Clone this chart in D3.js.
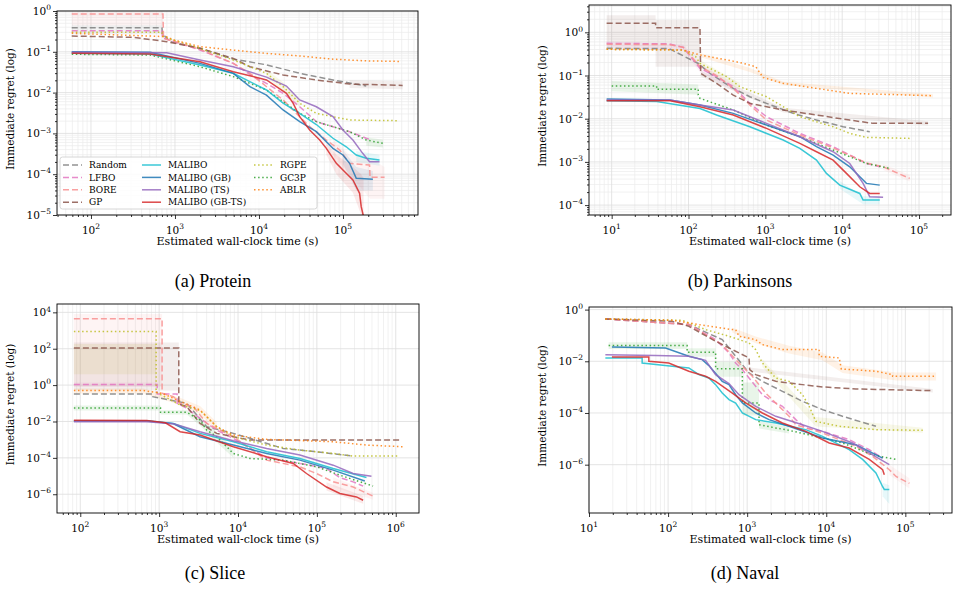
<!DOCTYPE html>
<html>
<head>
<meta charset="utf-8">
<script src="https://cdn.jsdelivr.net/npm/d3@7"></script>
<style>
  body { margin: 0; background: #fff; }
</style>
</head>
<body>
<svg id="fig" width="953" height="592"></svg>
<script>
// methods, in legend order
const methods = ["Random", "LFBO", "BORE", "GP", "MALIBO", "MALIBO (GB)", "MALIBO (TS)", "MALIBO (GB-TS)", "RGPE", "GC3P", "ABLR"];
const methodColors = ["#7f7f7f", "#e377c2", "#f88f8f", "#8c564b", "#17becf", "#1f77b4", "#9467bd", "#d62728", "#bcbd22", "#2ca02c", "#ff7f0e"];
const methodDash = ["6,3", "6,3", "6,3", "6,3", null, null, null, null, "1.5,2.6", "1.5,2.6", "1.5,2.6"];
const drawOrder = [0, 1, 2, 3, 8, 9, 10, 4, 5, 6, 7];

// ---- (a) Protein  [time (s), regret]
const proteinRandom = [[59,0.39],[700,0.39],[710,0.28],[875,0.177],[1986,0.122],[4943,0.066],[12280,0.048],[30550,0.0297],[76030,0.0204],[189200,0.0145]];
const proteinLFBO = [[59,0.33],[700,0.33],[710,0.22],[1986,0.111],[4943,0.052],[8530,0.0246],[12280,0.0169],[19360,0.0096],[30550,0.0045],[48190,0.00194],[76030,0.00146],[119900,0.0011],[189200,0.00076],[217000,0.00069]];
const proteinBORE = [[59,0.844],[720,0.844],[730,0.214],[1986,0.115],[4943,0.052],[7800,0.0297],[19360,0.0066],[30550,0.00257],[40180,0.00146],[63400,0.00069],[91440,0.00039],[119900,0.000185],[207200,0.000168],[210000,0.0000838],[312600,0.0000838]];
const proteinGP = [[59,0.244],[321,0.226],[798,0.177],[1986,0.122],[4943,0.069],[7800,0.043],[19360,0.027],[48190,0.0204],[119900,0.0162],[513000,0.015]];
const proteinMALIBO = [[59,0.092],[506,0.088],[1986,0.0475],[4943,0.0297],[12280,0.0116],[19360,0.0055],[30550,0.0031],[48190,0.00165],[76030,0.00076],[109400,0.00047],[143900,0.000296],[189200,0.000245],[272300,0.000223]];
const proteinMALIBOGB = [[59,0.1],[506,0.097],[1986,0.052],[4943,0.0297],[7800,0.014],[12280,0.0087],[19360,0.00375],[30550,0.00194],[48190,0.0011],[76030,0.00043],[99900,0.000296],[119900,0.000185],[143900,0.0000792],[227000,0.0000748]];
const proteinMALIBOTS = [[59,0.097],[798,0.095],[1986,0.063],[4943,0.043],[12280,0.024],[21230,0.0145],[30550,0.0066],[48190,0.0045],[76030,0.00257],[99900,0.00121],[131300,0.00069],[172600,0.00032],[207200,0.000203],[272300,0.000203]];
const proteinMALIBOGBTS = [[59,0.092],[506,0.088],[1986,0.057],[4943,0.0326],[12280,0.0204],[21230,0.0096],[25460,0.0055],[30550,0.00257],[40180,0.00121],[52850,0.00069],[63400,0.00043],[83370,0.000185],[99900,0.000127],[131300,0.000072],[157700,0.000034],[164900,0.000016],[175800,0.0000091]];
const proteinRGPE = [[59,0.30],[700,0.30],[710,0.24],[957,0.195],[1986,0.122],[4943,0.063],[12280,0.0297],[19360,0.014],[30550,0.0055],[48190,0.0031],[76030,0.00257],[119900,0.00213],[448000,0.00205]];
const proteinGC3P = [[59,0.087],[506,0.0835],[1986,0.043],[4943,0.0246],[12280,0.0116],[30550,0.0031],[48190,0.00194],[76030,0.00146],[119900,0.0011],[189200,0.00069],[298500,0.00057]];
const proteinABLR = [[59,0.284],[798,0.235],[957,0.195],[1986,0.134],[4943,0.11],[12280,0.0915],[30550,0.079],[76030,0.066],[189200,0.06],[490000,0.058]];
// bands [time, low, high]
const proteinBandBORE = [[59,0.45,0.95],[720,0.45,0.95]];
const proteinBandRandom = [[59,0.27,0.46],[700,0.27,0.46]];
const proteinBandRGPE = [[12280,0.024,0.037],[19360,0.011,0.018],[30550,0.0045,0.0068]];
const proteinBandBORElate = [[76030,0.0003,0.0007],[119900,0.0001,0.0003],[210000,0.000025,0.00025],[312600,0.000025,0.00015]];
const proteinBandGBTS = [[63400,0.0003,0.0006],[83370,0.0001,0.0003],[131300,0.000035,0.00015],[164900,0.00001,0.0001],[175800,0.000005,0.00008]];
const proteinBandGB = [[99900,0.00018,0.0004],[143900,0.00004,0.00015],[227000,0.00004,0.00012]];
const proteinBandMALIBO = [[143900,0.0002,0.00037],[272300,0.00016,0.0003]];
const proteinBandGP = [[119900,0.013,0.02],[513000,0.012,0.019]];
const proteinBandGC3P = [[189200,0.0005,0.0008],[298500,0.00045,0.0007]];
const proteinXTicks = [2, 3, 4, 5];
const proteinYTicks = [0, -1, -2, -3, -4, -5];

// ---- (b) Parkinsons
const parkinsonsRandom = [[8.6,0.426],[55.6,0.42],[134,0.19],[190,0.112],[382,0.0504],[628,0.0323],[1035,0.0227],[2300,0.0133],[4630,0.0093],[10280,0.00653],[22840,0.005]];
const parkinsonsLFBO = [[8.6,0.556],[55.6,0.54],[85.4,0.45],[141,0.147],[232,0.094],[382,0.0551],[628,0.0227],[1035,0.0111],[2810,0.00457],[7620,0.00225],[20670,0.00092],[30820,0.00077]];
const parkinsonsBORE = [[8.6,0.53],[55.6,0.52],[85.4,0.45],[141,0.16],[232,0.1],[382,0.0504],[628,0.0207],[1035,0.0093],[2810,0.0042],[7620,0.0021],[20670,0.00095],[34060,0.00077],[75670,0.000415]];
const parkinsonsGP = [[8.6,1.617],[37.3,1.617],[37.3,1.28],[141,1.28],[144,0.112],[232,0.0659],[382,0.0353],[628,0.0227],[1705,0.0159],[4630,0.0122],[12550,0.0093],[25230,0.0078],[131000,0.0078]];
const parkinsonsMALIBO = [[8.6,0.0261],[38.5,0.025],[141,0.0173],[232,0.0122],[628,0.00653],[1705,0.00321],[2810,0.00206],[4630,0.0011],[6240,0.000542],[9300,0.00029],[16930,0.000186],[18710,0.000131],[30820,0.000131]];
const parkinsonsMALIBOGB = [[8.6,0.0286],[57.3,0.0271],[141,0.0207],[382,0.0133],[1035,0.00713],[2810,0.00383],[4630,0.00225],[7620,0.00144],[12550,0.00077],[20670,0.000318],[30820,0.00029]];
const parkinsonsMALIBOTS = [[8.6,0.0271],[57.3,0.027],[141,0.0207],[382,0.0159],[1035,0.0078],[2810,0.00383],[7620,0.00172],[12550,0.00092],[18710,0.000318],[22840,0.000156],[34060,0.000151]];
const parkinsonsMALIBOGBTS = [[8.6,0.0261],[57.3,0.026],[141,0.019],[382,0.0122],[1035,0.00597],[2810,0.00268],[4630,0.00172],[7620,0.0011],[11360,0.000542],[16930,0.000266],[22840,0.000186],[30820,0.000186]];
const parkinsonsRGPE = [[8.6,0.404],[85.4,0.39],[124,0.273],[141,0.191],[313,0.094],[466,0.0551],[1035,0.0323],[1705,0.019],[2810,0.0111],[7620,0.00653],[12550,0.00457],[20670,0.0037],[75670,0.0035]];
const parkinsonsGC3P = [[10,0.0571],[38.5,0.0571],[38.5,0.0478],[134,0.0478],[134,0.0353],[141,0.0296],[382,0.0159],[1035,0.00713],[2810,0.00383],[7620,0.00188],[20670,0.00092],[41610,0.000707]];
const parkinsonsABLR = [[8.6,0.404],[85.4,0.39],[141,0.298],[313,0.229],[466,0.2],[750,0.16],[935,0.09],[1705,0.0659],[4630,0.0504],[12550,0.0386],[152000,0.0341]];
const parkinsonsBandGP = [[8.6,0.39,2.5],[37.3,0.39,2.5],[37.3,0.16,1.93],[141,0.16,1.93]];
const parkinsonsBandGPlate = [[144,0.095,0.13],[1705,0.014,0.018],[131000,0.007,0.0087]];
const parkinsonsBandGC3P = [[10,0.043,0.075],[134,0.036,0.062]];
const parkinsonsBandLFBO = [[8.6,0.45,0.62],[85.4,0.38,0.52],[141,0.12,0.19],[382,0.045,0.065]];
const parkinsonsBandRGPE = [[141,0.16,0.23],[466,0.046,0.066]];
const parkinsonsBandABLR = [[141,0.27,0.33],[628,0.12,0.15],[1705,0.06,0.072],[152000,0.031,0.037]];
const parkinsonsBandMALIBO = [[9300,0.00024,0.00036],[18710,0.000105,0.00016],[30820,0.000105,0.00016]];
const parkinsonsBandBORE = [[34060,0.00065,0.0009],[75670,0.00035,0.0005]];
const parkinsonsXTicks = [1, 2, 3, 4, 5];
const parkinsonsYTicks = [0, -1, -2, -3, -4];

// ---- (c) Slice
const sliceRandom = [[83,0.327],[815,0.327],[815,0.233],[2240,0.1],[4010,0.00516],[8730,0.00222],[37500,0.00033],[99000,0.000216],[288300,0.000125]];
const sliceLFBO = [[83,1.07],[944,1.07],[944,0.327],[1690,0.327],[1690,0.1],[2240,0.053],[3300,0.0149],[5370,0.00338],[8730,0.00117],[23080,0.0001],[60900,0.00005],[132500,0.000026],[195500,0.0000083],[288300,0.0000048],[385800,0.0000028]];
const sliceBORE = [[83,4480],[1090,4480],[1090,0.356],[1518,0.233],[1845,0.1],[2720,0.0655],[4010,0.00788],[8730,0.00145],[23080,0.000075],[60900,0.000032],[99000,0.0000138],[161000,0.0000048],[288300,0.0000025],[516000,0.00000078]];
const sliceGP = [[83,108],[1775,108],[1775,0.092],[2240,0.0655],[3300,0.00788],[5370,0.00222],[8730,0.00145],[14190,0.00095],[1124000,0.00095]];
const sliceMALIBO = [[83,0.0111],[698,0.0111],[1518,0.00788],[3300,0.00222],[8730,0.00077],[23080,0.000216],[60900,0.0000927],[161000,0.000026],[425600,0.0000083]];
const sliceMALIBOGB = [[83,0.0105],[698,0.0105],[1518,0.0075],[3300,0.00145],[8730,0.000504],[23080,0.000175],[60900,0.000075],[161000,0.0000211],[405000,0.0000054]];
const sliceMALIBOTS = [[83,0.0098],[698,0.0098],[1518,0.0075],[3300,0.00274],[8730,0.00087],[23080,0.00033],[60900,0.000142],[161000,0.0000397],[288300,0.0000138],[492000,0.0000098]];
const sliceMALIBOGBTS = [[83,0.0118],[698,0.0115],[1200,0.0085],[1845,0.00274],[3300,0.00179],[8730,0.000408],[23080,0.000115],[50200,0.0000491],[73900,0.0000138],[132500,0.0000025],[195500,0.0000011],[317700,0.00000071],[385800,0.00000047]];
const sliceRGPE = [[83,896],[916,896],[916,0.405],[1845,0.081],[2720,0.053],[3300,0.04],[4010,0.0184],[5370,0.00516],[8730,0.00145],[23080,0.000504],[60900,0.000267],[161000,0.000175],[288300,0.000125],[1124000,0.000125]];
const sliceGC3P = [[83,0.0553],[1040,0.0553],[1040,0.0319],[2240,0.0319],[3300,0.012],[4010,0.00338],[5370,0.00145],[8730,0.000175],[14190,0.0000927],[37500,0.000075],[99000,0.0000321],[195500,0.0000112],[516000,0.0000028]];
const sliceABLR = [[83,0.5],[634,0.5],[1090,0.356],[1845,0.13],[3300,0.043],[5370,0.00516],[8730,0.00179],[23080,0.00104],[161000,0.00077],[425600,0.000504],[1239000,0.000408]];
const sliceBandBORE = [[83,0.8,8000],[1090,0.8,8000]];
const sliceBandRGPE = [[83,4,180],[916,4,180]];
const sliceBandGP = [[83,0.5,220],[1775,0.5,220]];
const sliceBandLFBO = [[83,0.8,1.4],[944,0.8,1.4]];
const sliceBandABLR = [[83,0.35,0.65],[634,0.35,0.65],[1845,0.08,0.2],[3300,0.025,0.07],[5370,0.003,0.009]];
const sliceBandGC3P = [[83,0.04,0.075],[1040,0.04,0.075],[1040,0.024,0.042],[2240,0.024,0.042],[3300,0.006,0.02],[5370,0.0007,0.0025],[8730,0.0001,0.0003]];
const sliceBandGBTS = [[132500,0.0000016,0.0000045],[385800,0.0000003,0.0000008]];
const sliceBandBORElate = [[161000,0.0000025,0.0000085],[516000,0.0000005,0.0000012]];
const sliceXTicks = [2, 3, 4, 5, 6];
const sliceYTicks = [4, 2, 0, -2, -4, -6];

// ---- (d) Naval
const navalRandom = [[16.1,0.435],[183,0.263],[484,0.069],[715,0.0156],[1055,0.00353],[1556,0.00168],[2790,0.00069],[5000,0.000283],[8970,0.000135],[16070,0.0000743],[42480,0.0000305]];
const navalLFBO = [[16.1,0.435],[183,0.263],[399,0.069],[589,0.021],[715,0.0086],[869,0.00476],[1055,0.00226],[1556,0.00051],[2083,0.000283],[2790,0.000181],[4120,0.0000552],[5510,0.0000263],[8970,0.0000195],[19500,0.0000093],[34970,0.0000038],[51620,0.0000018]];
const navalBORE = [[16.1,0.435],[183,0.263],[484,0.0442],[715,0.0116],[1162,0.00263],[1715,0.00059],[2531,0.000181],[3390,0.0000743],[4120,0.0000353],[8970,0.0000168],[23700,0.0000051],[38540,0.0000021],[62700,0.00000064],[76200,0.00000035],[112500,0.00000019]];
const navalGP = [[16.1,0.435],[113,0.353],[183,0.226],[399,0.0595],[649,0.0283],[1055,0.0135],[1076,0.00476],[1281,0.00305],[2296,0.00168],[5000,0.00125],[8970,0.00102],[23700,0.00085],[222000,0.00073]];
const navalMALIBO = [[16.1,0.0135],[47,0.0135],[47,0.0086],[113,0.0064],[183,0.0055],[245,0.00305],[328,0.00226],[399,0.00125],[484,0.00059],[589,0.00033],[715,0.000244],[869,0.0001],[1281,0.0000552],[2296,0.000041],[5510,0.0000226],[8970,0.0000125],[19500,0.0000038],[28800,0.0000016],[42480,0.00000048],[51620,0.00000014],[54200,0.00000011],[62700,0.00000011]];
const navalMALIBOGB = [[19.5,0.0359],[92.8,0.0328],[183,0.0156],[270,0.0116],[328,0.0068],[484,0.00168],[589,0.00125],[715,0.00051],[869,0.000244],[1281,0.0001],[1890,0.0000552],[3390,0.0000305],[8970,0.0000108],[23700,0.0000059],[51620,0.0000018]];
const navalMALIBOTS = [[16.1,0.0181],[69.3,0.0166],[183,0.0156],[298,0.0109],[399,0.00305],[589,0.00137],[788,0.00051],[1281,0.000181],[2296,0.0000743],[5000,0.0000353],[8970,0.0000195],[21500,0.0000069],[38540,0.0000024],[62700,0.000001]];
const navalMALIBOGBTS = [[19.5,0.0147],[57.1,0.0147],[57.1,0.01],[102,0.0086],[183,0.0041],[298,0.00263],[399,0.00168],[649,0.00059],[957,0.000244],[1556,0.0001],[2790,0.000041],[5510,0.0000195],[10890,0.0000069],[19500,0.0000044],[34970,0.0000016],[51620,0.00000064],[54200,0.00000041]];
const navalRGPE = [[16.1,0.435],[151,0.387],[298,0.168],[589,0.0929],[1055,0.0513],[1281,0.0283],[1556,0.0086],[2296,0.00226],[3390,0.00168],[5000,0.00051],[6080,0.000181],[7380,0.0000475],[14580,0.0000305],[42480,0.0000226],[166000,0.0000213]];
const navalGC3P = [[17.7,0.0404],[174,0.0404],[174,0.0223],[399,0.0223],[399,0.0052],[869,0.0052],[869,0.000244],[1412,0.000244],[1412,0.0000353],[2296,0.0000263],[3390,0.0000213],[8970,0.0000108],[16070,0.0000069],[38540,0.0000024],[76200,0.0000016]];
const navalABLR = [[16.1,0.435],[113,0.387],[245,0.263],[649,0.168],[715,0.168],[788,0.0929],[1281,0.069],[1556,0.0442],[2790,0.0283],[8130,0.0283],[8130,0.0156],[14580,0.0135],[15500,0.00505],[42480,0.0041],[69100,0.00305],[69100,0.00263],[244700,0.00263]];
const navalBandABLR = [[649,0.13,0.2],[1281,0.05,0.09],[3390,0.02,0.04],[8970,0.011,0.022],[16070,0.0035,0.007],[76200,0.0018,0.0037],[244700,0.0018,0.0037]];
const navalBandGC3P = [[17.7,0.03,0.055],[174,0.03,0.055],[174,0.015,0.032],[399,0.015,0.032],[399,0.0025,0.0095],[869,0.0025,0.0095],[869,0.00008,0.0015],[1412,0.00008,0.0015],[1412,0.000025,0.00005],[3390,0.000016,0.000028]];
const navalBandMALIBO = [[51620,0.00000006,0.0000002],[62700,0.00000003,0.00000016]];
const navalBandBORE = [[62700,0.0000004,0.000001],[112500,0.00000012,0.0000003]];
const navalBandGP = [[1076,0.004,0.0057],[222000,0.00062,0.00085]];
const navalBandRGPE = [[1556,0.006,0.012],[7380,0.00003,0.00007],[166000,0.000017,0.000027]];
const navalXTicks = [1, 2, 3, 4, 5];
const navalYTicks = [0, -2, -4, -6];

// panel layout
const panels = [
  { caption: "(a) Protein", box: [57, 11, 418, 215], xDomain: [39.4, 782000], yDomain: [1e-5, 1],
    xTicks: proteinXTicks, yTicks: proteinYTicks, yMinor: true, capX: 213, capY: 287, legend: true,
    series: [proteinRandom, proteinLFBO, proteinBORE, proteinGP, proteinMALIBO, proteinMALIBOGB, proteinMALIBOTS, proteinMALIBOGBTS, proteinRGPE, proteinGC3P, proteinABLR],
    bands: [[2, proteinBandBORE], [0, proteinBandRandom], [8, proteinBandRGPE], [2, proteinBandBORElate], [7, proteinBandGBTS], [5, proteinBandGB], [4, proteinBandMALIBO], [3, proteinBandGP], [9, proteinBandGC3P]] },
  { caption: "(b) Parkinsons", box: [589, 5, 951, 215], xDomain: [5.07, 260600], yDomain: [5.9e-5, 4.29],
    xTicks: parkinsonsXTicks, yTicks: parkinsonsYTicks, yMinor: true, capX: 740, capY: 287,
    series: [parkinsonsRandom, parkinsonsLFBO, parkinsonsBORE, parkinsonsGP, parkinsonsMALIBO, parkinsonsMALIBOGB, parkinsonsMALIBOTS, parkinsonsMALIBOGBTS, parkinsonsRGPE, parkinsonsGC3P, parkinsonsABLR],
    bands: [[3, parkinsonsBandGP], [3, parkinsonsBandGPlate], [9, parkinsonsBandGC3P], [1, parkinsonsBandLFBO], [8, parkinsonsBandRGPE], [10, parkinsonsBandABLR], [4, parkinsonsBandMALIBO], [2, parkinsonsBandBORE]] },
  { caption: "(c) Slice", box: [57, 304, 419, 513], xDomain: [50.7, 1972000], yDomain: [9.3e-8, 28800],
    xTicks: sliceXTicks, yTicks: sliceYTicks, yMinor: false, capX: 215, capY: 579,
    series: [sliceRandom, sliceLFBO, sliceBORE, sliceGP, sliceMALIBO, sliceMALIBOGB, sliceMALIBOTS, sliceMALIBOGBTS, sliceRGPE, sliceGC3P, sliceABLR],
    bands: [[2, sliceBandBORE], [8, sliceBandRGPE], [3, sliceBandGP], [1, sliceBandLFBO], [10, sliceBandABLR], [9, sliceBandGC3P], [7, sliceBandGBTS], [2, sliceBandBORElate]] },
  { caption: "(d) Naval", box: [589, 307, 952, 513], xDomain: [10, 389000], yDomain: [1.35e-8, 1.26],
    xTicks: navalXTicks, yTicks: navalYTicks, yMinor: false, capX: 745, capY: 579,
    series: [navalRandom, navalLFBO, navalBORE, navalGP, navalMALIBO, navalMALIBOGB, navalMALIBOTS, navalMALIBOGBTS, navalRGPE, navalGC3P, navalABLR],
    bands: [[10, navalBandABLR], [9, navalBandGC3P], [4, navalBandMALIBO], [2, navalBandBORE], [3, navalBandGP], [8, navalBandRGPE]] }
];

const svg = d3.select("#fig");
const defs = svg.append("defs");
const serif = "'DejaVu Serif', serif";
const captionFont = "'Liberation Serif', 'Times New Roman', Times, serif";

function minorValues(domain) {
  const vals = [];
  const lo = Math.floor(Math.log10(domain[0])), hi = Math.ceil(Math.log10(domain[1]));
  for (let e = lo; e <= hi; e++) {
    for (let m = 2; m <= 9; m++) {
      const v = m * Math.pow(10, e);
      if (v >= domain[0] && v <= domain[1]) vals.push(v);
    }
  }
  return vals;
}

function powLabel(g, x, y, exp, anchor) {
  const t = g.append("text").attr("x", x).attr("y", y).attr("text-anchor", anchor)
    .attr("font-family", serif).attr("font-size", 10.5).attr("fill", "#000");
  t.append("tspan").text("10");
  t.append("tspan").attr("dy", -4.8).attr("font-size", 7.5).text(exp < 0 ? "\u2212" + (-exp) : String(exp));
}

panels.forEach((p, pi) => {
  const [L, T, R, B] = p.box;
  const x = d3.scaleLog().domain(p.xDomain).range([L, R]);
  const y = d3.scaleLog().domain(p.yDomain).range([B, T]);
  const g = svg.append("g");

  defs.append("clipPath").attr("id", "clip" + pi)
    .append("rect").attr("x", L).attr("y", T).attr("width", R - L).attr("height", B - T);

  const xMajor = p.xTicks.map(e => Math.pow(10, e));
  const yMajor = p.yTicks.map(e => Math.pow(10, e));
  const xMinor = minorValues(p.xDomain);
  const yMinor = p.yMinor ? minorValues(p.yDomain) : [];

  // grid
  const grid = g.append("g");
  grid.selectAll(".xmin").data(xMinor).enter().append("line")
    .attr("x1", d => x(d)).attr("x2", d => x(d)).attr("y1", T).attr("y2", B)
    .attr("stroke", "#ebebeb").attr("stroke-width", 0.7);
  grid.selectAll(".ymin").data(yMinor).enter().append("line")
    .attr("y1", d => y(d)).attr("y2", d => y(d)).attr("x1", L).attr("x2", R)
    .attr("stroke", "#ebebeb").attr("stroke-width", 0.7);
  grid.selectAll(".xmaj").data(xMajor).enter().append("line")
    .attr("x1", d => x(d)).attr("x2", d => x(d)).attr("y1", T).attr("y2", B)
    .attr("stroke", "#dddddd").attr("stroke-width", 0.8);
  grid.selectAll(".ymaj").data(yMajor).enter().append("line")
    .attr("y1", d => y(d)).attr("y2", d => y(d)).attr("x1", L).attr("x2", R)
    .attr("stroke", "#dddddd").attr("stroke-width", 0.8);

  const plot = g.append("g").attr("clip-path", `url(#clip${pi})`);

  // shaded bands
  const area = d3.area().x(d => x(d[0])).y0(d => y(d[1])).y1(d => y(d[2]));
  p.bands.forEach(([m, band]) => {
    plot.append("path").attr("d", area(band))
      .attr("fill", methodColors[m]).attr("fill-opacity", 0.1);
  });

  // lines
  const line = d3.line().x(d => x(d[0])).y(d => y(d[1]));
  drawOrder.forEach(m => {
    plot.append("path").attr("d", line(p.series[m]))
      .attr("fill", "none")
      .attr("stroke", methodColors[m])
      .attr("stroke-width", 1.5)
      .attr("stroke-opacity", 0.85)
      .attr("stroke-dasharray", methodDash[m]);
  });

  // axes ticks
  g.append("g").attr("transform", `translate(0,${B})`)
    .call(d3.axisBottom(x).tickValues(xMinor).tickSize(2).tickFormat(""))
    .call(a => a.select(".domain").remove());
  g.append("g").attr("transform", `translate(0,${B})`)
    .call(d3.axisBottom(x).tickValues(xMajor).tickSize(4).tickFormat(""))
    .call(a => a.select(".domain").remove());
  if (p.yMinor) {
    g.append("g").attr("transform", `translate(${L},0)`)
      .call(d3.axisLeft(y).tickValues(yMinor).tickSize(2).tickFormat(""))
      .call(a => a.select(".domain").remove());
  }
  g.append("g").attr("transform", `translate(${L},0)`)
    .call(d3.axisLeft(y).tickValues(yMajor).tickSize(4).tickFormat(""))
    .call(a => a.select(".domain").remove());
  g.selectAll(".tick line").attr("stroke", "#000").attr("stroke-width", 0.8);

  p.xTicks.forEach(e => powLabel(g, x(Math.pow(10, e)), B + 19, e, "middle"));
  p.yTicks.forEach(e => powLabel(g, L - 6, y(Math.pow(10, e)) + 4, e, "end"));

  // frame
  g.append("rect").attr("x", L).attr("y", T).attr("width", R - L).attr("height", B - T)
    .attr("fill", "none").attr("stroke", "#000").attr("stroke-width", 0.9);

  // labels
  g.append("text").attr("x", (L + R) / 2).attr("y", B + 30).attr("text-anchor", "middle")
    .attr("font-family", serif).attr("font-size", 11).text("Estimated wall-clock time (s)");
  const ly = (T + B) / 2 - 4;
  g.append("text").attr("transform", `translate(${L - 43},${ly}) rotate(-90)`)
    .attr("text-anchor", "middle").attr("font-family", serif).attr("font-size", 10.5)
    .text("Immediate regret (log)");
  g.append("text").attr("x", p.capX).attr("y", p.capY).attr("text-anchor", "middle")
    .attr("font-family", captionFont).attr("font-size", 18).text(p.caption);

  if (p.legend) {
    const lg = g.append("g");
    lg.append("rect").attr("x", 60).attr("y", 157).attr("width", 257).attr("height", 52)
      .attr("rx", 2.5).attr("fill", "#fff").attr("fill-opacity", 0.85)
      .attr("stroke", "#cccccc").attr("stroke-width", 0.8);
    const colX = [63, 142, 254];
    methods.forEach((name, m) => {
      const col = m < 4 ? 0 : (m < 8 ? 1 : 2);
      const row = m < 4 ? m : (m < 8 ? m - 4 : m - 8);
      const cy = 165 + row * 12.4;
      lg.append("line").attr("x1", colX[col]).attr("x2", colX[col] + 19).attr("y1", cy).attr("y2", cy)
        .attr("stroke", methodColors[m]).attr("stroke-width", 1.5).attr("stroke-opacity", 0.85)
        .attr("stroke-dasharray", methodDash[m]);
      lg.append("text").attr("x", colX[col] + 26).attr("y", cy + 3.2)
        .attr("font-family", serif).attr("font-size", 9).text(name);
    });
  }
});
</script>
</body>
</html>
